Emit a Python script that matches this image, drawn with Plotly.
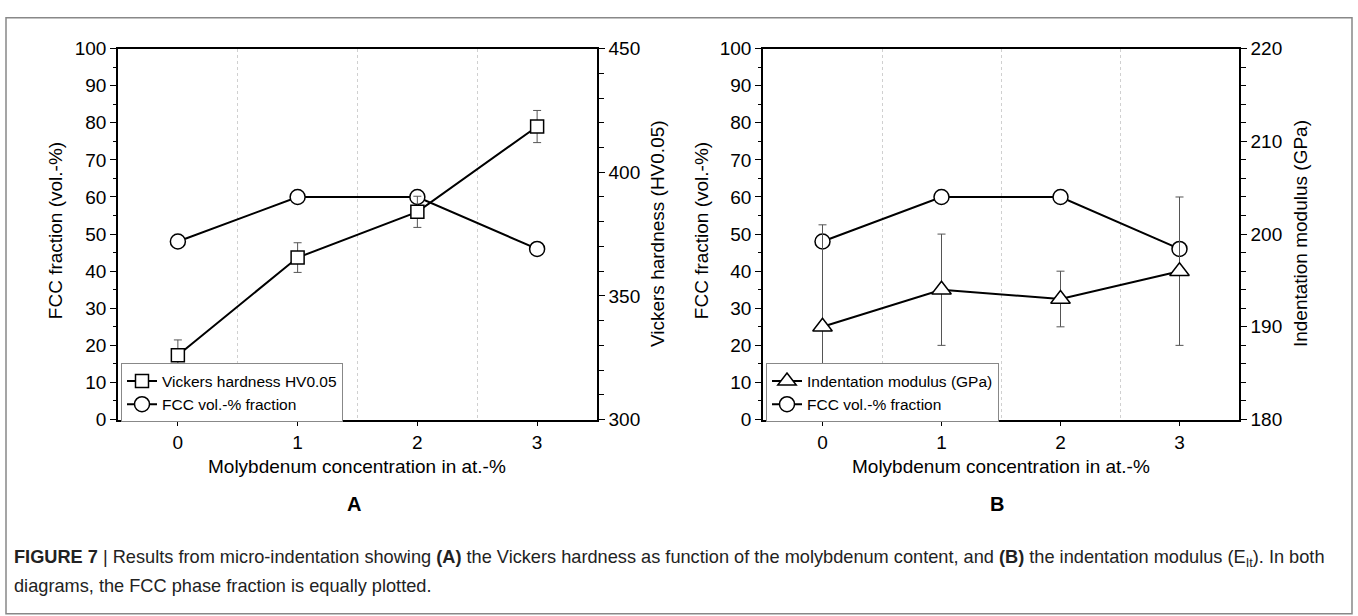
import plotly.graph_objects as go

W, H = 1358, 616

# ---------------- data ----------------
mo_conc = [0, 1, 2, 3]
fcc_fraction = [48, 60, 60, 46]                 # vol.-%
hv_hardness = [326, 365.5, 384, 418.5]          # HV0.05
hv_err = [6.2, 6.0, 6.3, 6.5]
e_modulus = [190, 194, 193, 196]                # GPa
e_err = [11, 6, 3, 8]

x_ticks = [0, 1, 2, 3]
fcc_ticks = list(range(0, 101, 10))
hv_ticks = [300, 350, 400, 450]
e_ticks = [180, 190, 200, 210, 220]

FONT = "Liberation Sans, Arial, sans-serif"


def px_x(x):
    return x / W


def px_y(y):
    return 1 - y / H


left_dom = [px_x(118), px_x(597)]
right_dom = [px_x(763), px_x(1239)]
y_dom = [px_y(424), px_y(40)]

line_style = dict(color="black", width=2)
mk_line = dict(color="black", width=1.5)
err_style = dict(type="data", color="#555555", thickness=1, width=4, visible=True)

fig = go.Figure()

# Panel A
fig.add_trace(go.Scatter(
    x=mo_conc, y=fcc_fraction, mode="lines+markers", name="FCC vol.-% fraction",
    line=line_style, marker=dict(symbol="circle", size=15, color="white", line=mk_line),
    xaxis="x", yaxis="y", legend="legend", legendrank=2))
fig.add_trace(go.Scatter(
    x=mo_conc, y=hv_hardness, mode="lines+markers", name="Vickers hardness HV0.05",
    line=line_style, marker=dict(symbol="square", size=13, color="white", line=mk_line),
    error_y=dict(array=hv_err, **err_style),
    xaxis="x", yaxis="y2", legend="legend", legendrank=1))

# Panel B
fig.add_trace(go.Scatter(
    x=mo_conc, y=fcc_fraction, mode="lines+markers", name="FCC vol.-% fraction",
    line=line_style, marker=dict(symbol="circle", size=15, color="white", line=mk_line),
    xaxis="x2", yaxis="y3", legend="legend2", legendrank=2))
fig.add_trace(go.Scatter(
    x=mo_conc, y=e_modulus, mode="lines+markers", name="Indentation modulus (GPa)",
    line=line_style, marker=dict(symbol="triangle-up", size=17, color="white", line=mk_line),
    error_y=dict(array=e_err, **err_style),
    xaxis="x2", yaxis="y4", legend="legend2", legendrank=1))

tickfont = dict(family=FONT, size=19, color="black")

xcommon = dict(range=[-0.5, 3.5], tickvals=x_ticks, ticks="outside", ticklen=5,
               tickcolor="black", showline=True, linecolor="black", linewidth=1.5,
               mirror=True, showgrid=False, zeroline=False, tickfont=tickfont,
               minor=dict(tick0=0.5, dtick=1, showgrid=True, gridcolor="#d0d0d0",
                          griddash="dot", gridwidth=1, ticks=""),
               fixedrange=True)
yleft = dict(range=[0, 100], tickvals=fcc_ticks, ticks="outside", ticklen=6,
             tickcolor="black", showline=True, linecolor="black", linewidth=1.5,
             showgrid=False, zeroline=False, tickfont=tickfont, domain=y_dom,
             minor=dict(dtick=5, ticks="outside", ticklen=3, tickcolor="black", showgrid=False))

legend_common = dict(xanchor="left", yanchor="bottom", bgcolor="white",
                     bordercolor="#888888", borderwidth=1,
                     font=dict(family=FONT, size=15.5, color="black"),
                     tracegroupgap=0, itemsizing="trace")

fig.update_layout(
    width=W, height=H, margin=dict(l=0, r=0, t=0, b=0),
    paper_bgcolor="white", plot_bgcolor="white",
    font=dict(family=FONT, color="black"),
    xaxis=dict(domain=left_dom, anchor="y", **xcommon),
    xaxis2=dict(domain=right_dom, anchor="y3", **xcommon),
    yaxis=dict(anchor="x", **yleft),
    yaxis3=dict(anchor="x2", **yleft),
    yaxis2=dict(anchor="x", overlaying="y", side="right", range=[300, 450],
                tickvals=hv_ticks, ticks="outside", ticklen=6, tickcolor="black",
                showline=True, linecolor="black", linewidth=1.5, showgrid=False,
                zeroline=False, tickfont=tickfont,
                minor=dict(dtick=10, ticks="outside", ticklen=5, tickcolor="black",
                           showgrid=False)),
    yaxis4=dict(anchor="x2", overlaying="y3", side="right", range=[180, 220],
                tickvals=e_ticks, ticks="outside", ticklen=6, tickcolor="black",
                showline=True, linecolor="black", linewidth=1.5, showgrid=False,
                zeroline=False, tickfont=tickfont,
                minor=dict(dtick=2, ticks="outside", ticklen=5, tickcolor="black",
                           showgrid=False)),
    legend=dict(x=px_x(121), y=px_y(427), **legend_common),
    legend2=dict(x=px_x(766), y=px_y(427), **legend_common),
    showlegend=True,
)

# outer frame
fig.add_shape(type="rect", xref="paper", yref="paper",
              x0=px_x(6), x1=px_x(1352), y0=px_y(625), y1=px_y(8),
              line=dict(color="#888888", width=1.5), fillcolor="rgba(0,0,0,0)", layer="below")

ann = []
title_font = dict(family=FONT, size=19, color="black")


def add_text(text, x, y, font, angle=0, xanchor="center", yanchor="middle", align="center"):
    ann.append(dict(text=text, x=px_x(x), y=px_y(y), xref="paper", yref="paper",
                    showarrow=False, font=font, textangle=angle,
                    xanchor=xanchor, yanchor=yanchor, align=align))


# axis titles
add_text("FCC fraction (vol.-%)", 55, 229, title_font, angle=-90)
add_text("Vickers hardness (HV0.05)", 657, 232, title_font, angle=-90)
add_text("FCC fraction (vol.-%)", 701, 229, title_font, angle=-90)
add_text("Indentation modulus (GPa)", 1300, 232, title_font, angle=-90)
add_text("Molybdenum concentration in at.-%", 357, 473, title_font)
add_text("Molybdenum concentration in at.-%", 1001, 473, title_font)

# panel letters
letter_font = dict(family=FONT, size=20, color="black")
add_text("<b>A</b>", 354, 511, letter_font)
add_text("<b>B</b>", 997, 511, letter_font)

# caption
cap_font = dict(family="Liberation Sans, Arial", size=18.2, color="#222222")
add_text("<b>FIGURE 7</b> | Results from micro-indentation showing <b>(A)</b> the Vickers hardness "
         "as function of the molybdenum content, and <b>(B)</b> the indentation modulus "
         "(E<sub>It</sub>). In both", 12, 568, cap_font, xanchor="left", align="left")
add_text("diagrams, the FCC phase fraction is equally plotted.", 12, 596, cap_font,
         xanchor="left", align="left")

fig.update_layout(annotations=ann)

fig.write_html("out.html")
